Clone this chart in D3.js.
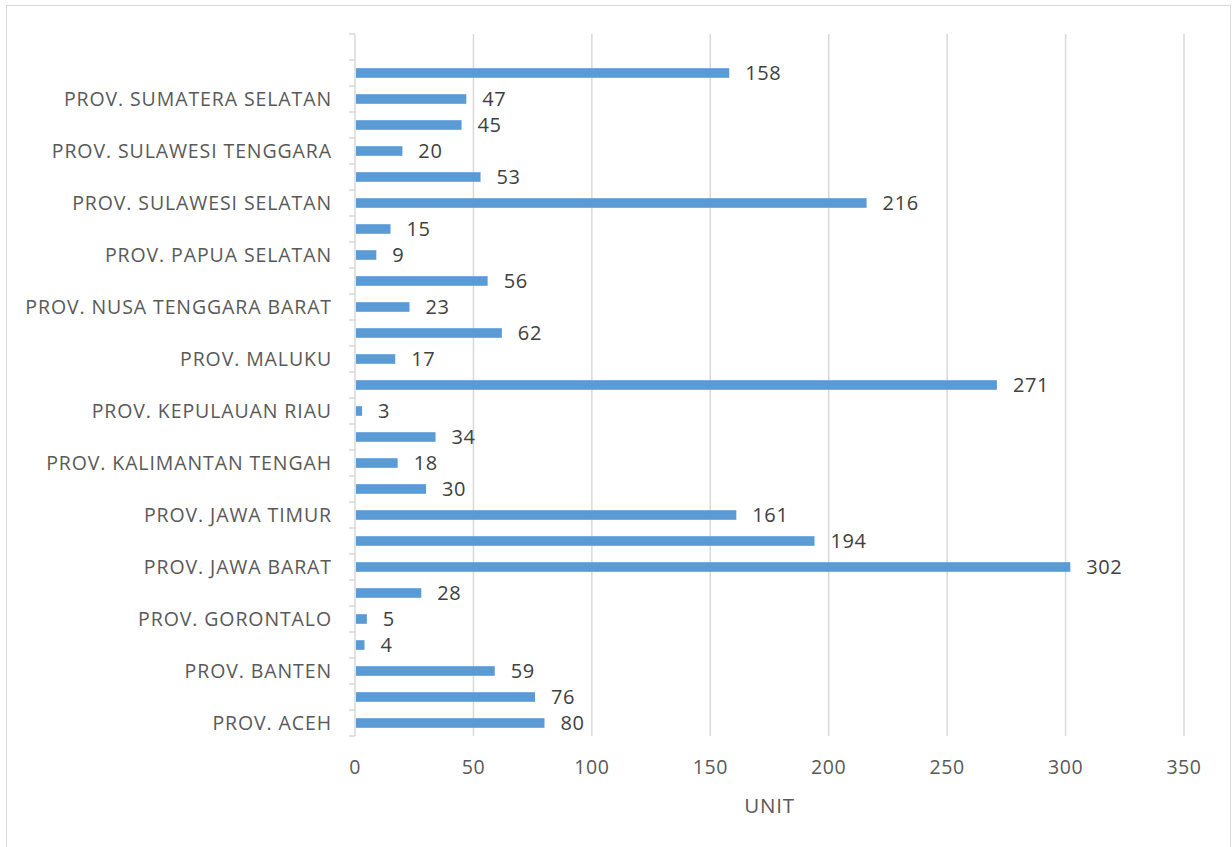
<!DOCTYPE html>
<html>
<head>
<meta charset="utf-8">
<script src="https://cdn.jsdelivr.net/npm/d3@7"></script>
<style>
  body { margin: 0; background: #fff; }
  svg { display: block; font-family: "Open Sans", sans-serif; }
</style>
</head>
<body>
<svg id="chart" width="1232" height="847"></svg>
<script>
// categories bottom -> top, only every other one gets a visible label
const provinces = [
  "PROV. ACEH", "PROV. BALI", "PROV. BANTEN", "PROV. BENGKULU", "PROV. GORONTALO",
  "PROV. JAMBI", "PROV. JAWA BARAT", "PROV. JAWA TENGAH", "PROV. JAWA TIMUR",
  "PROV. KALIMANTAN SELATAN", "PROV. KALIMANTAN TENGAH", "PROV. KALIMANTAN TIMUR",
  "PROV. KEPULAUAN RIAU", "PROV. LAMPUNG", "PROV. MALUKU", "PROV. MALUKU UTARA",
  "PROV. NUSA TENGGARA BARAT", "PROV. NUSA TENGGARA TIMUR", "PROV. PAPUA SELATAN",
  "PROV. RIAU", "PROV. SULAWESI SELATAN", "PROV. SULAWESI TENGAH",
  "PROV. SULAWESI TENGGARA", "PROV. SULAWESI UTARA", "PROV. SUMATERA SELATAN",
  "PROV. SUMATERA UTARA", ""
];
const units = [80, 76, 59, 4, 5, 28, 302, 194, 161, 30, 18, 34, 3, 271, 17, 62, 23, 56, 9, 15, 216, 53, 20, 45, 47, 158, null];
const xTicks = [0, 50, 100, 150, 200, 250, 300, 350];
const xTitle = "UNIT";

const svg = d3.select("#chart");

// outer chart border
svg.append("rect")
  .attr("x", 6.5).attr("y", 5.5)
  .attr("width", 1224).attr("height", 850)
  .style("fill", "none")
  .style("stroke", "#d9d9d9");

const plotL = 355, plotR = 1184, plotT = 34, plotB = 736;

const x = d3.scaleLinear().domain([0, 350]).range([plotL, plotR]);
const y = d3.scaleBand()
  .domain(provinces.map((d, i) => i))
  .range([plotB, plotT])
  .paddingInner(0.63)
  .paddingOuter(0.315);

// gridlines
svg.append("g")
  .selectAll("line")
  .data(xTicks.slice(1))
  .join("line")
  .attr("x1", d => x(d)).attr("x2", d => x(d))
  .attr("y1", plotT).attr("y2", plotB)
  .style("stroke", "#d9d9d9")
  .style("stroke-width", 1.5);

// x tick labels
svg.append("g")
  .selectAll("text")
  .data(xTicks)
  .join("text")
  .attr("x", d => x(d))
  .attr("y", 774)
  .attr("text-anchor", "middle")
  .style("font-size", "19.5px")
  .style("letter-spacing", "0.6px")
  .style("fill", "#595959")
  .text(d => d);

svg.append("text")
  .attr("x", (plotL + plotR) / 2)
  .attr("y", 813)
  .attr("text-anchor", "middle")
  .style("font-size", "20.5px")
  .style("letter-spacing", "0.8px")
  .style("fill", "#595959")
  .text(xTitle);

// y axis line + ticks at band boundaries
const step = y.step();
const yAxis = svg.append("g").style("stroke", "#d9d9d9").style("stroke-width", 1.5);
yAxis.append("line")
  .attr("x1", plotL).attr("x2", plotL)
  .attr("y1", plotT).attr("y2", plotB);
yAxis.selectAll("line.tick")
  .data(d3.range(provinces.length + 1))
  .join("line")
  .attr("class", "tick")
  .attr("x1", plotL - 6).attr("x2", plotL)
  .attr("y1", i => plotB - i * step)
  .attr("y2", i => plotB - i * step);

// category labels (every other)
svg.append("g")
  .selectAll("text")
  .data(provinces.map((d, i) => ({ name: d, i: i })).filter(d => d.i % 2 === 0))
  .join("text")
  .attr("x", plotL - 23)
  .attr("y", d => y(d.i) + y.bandwidth() / 2)
  .attr("dy", "0.36em")
  .attr("text-anchor", "end")
  .style("font-size", "19.5px")
  .style("letter-spacing", "0.9px")
  .style("fill", "#595959")
  .text(d => d.name);

const data = units.map((v, i) => ({ i: i, v: v })).filter(d => d.v != null);

// bars
svg.append("g")
  .selectAll("rect")
  .data(data)
  .join("rect")
  .attr("x", x(0) + 1)
  .attr("y", d => y(d.i))
  .attr("width", d => x(d.v) - x(0) - 1)
  .attr("height", y.bandwidth())
  .style("fill", "#5b9bd5");

// value labels
svg.append("g")
  .selectAll("text")
  .data(data)
  .join("text")
  .attr("x", d => x(d.v) + 16)
  .attr("y", d => y(d.i) + y.bandwidth() / 2)
  .attr("dy", "0.36em")
  .style("font-size", "20px")
  .style("letter-spacing", "0.6px")
  .style("fill", "#404040")
  .text(d => d.v);
</script>
</body>
</html>
